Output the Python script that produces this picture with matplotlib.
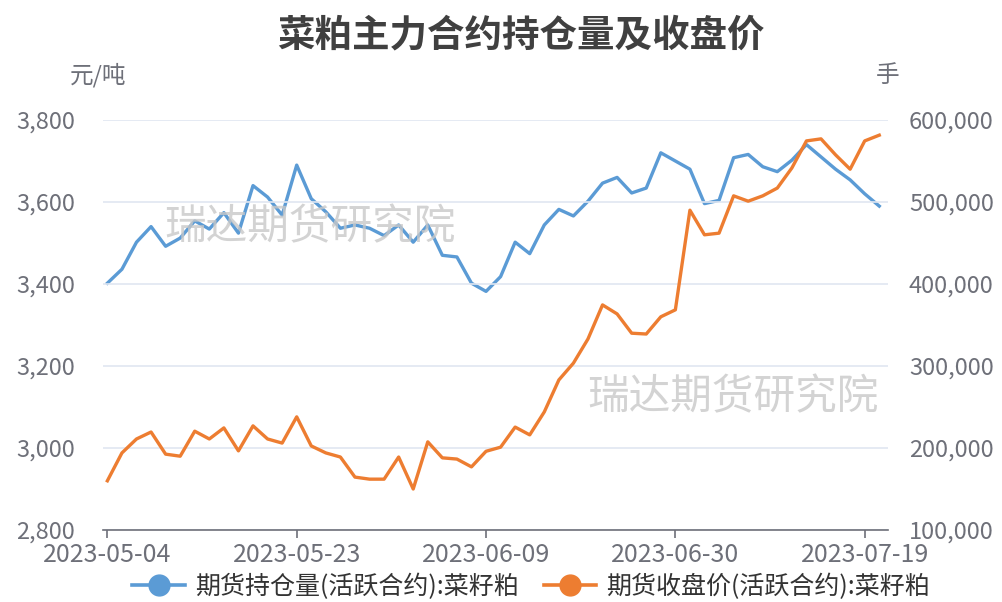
import matplotlib
matplotlib.use('Agg')
import matplotlib.pyplot as plt
from matplotlib.ticker import FuncFormatter, FixedLocator

plt.rcParams['font.family'] = ['Noto Sans CJK SC', 'DejaVu Sans']

dates = ['2023-05-04', '2023-05-05', '2023-05-08', '2023-05-09', '2023-05-10', '2023-05-11',
         '2023-05-12', '2023-05-15', '2023-05-16', '2023-05-17', '2023-05-18', '2023-05-19',
         '2023-05-22', '2023-05-23', '2023-05-24', '2023-05-25', '2023-05-26', '2023-05-29',
         '2023-05-30', '2023-05-31', '2023-06-01', '2023-06-02', '2023-06-05', '2023-06-06',
         '2023-06-07', '2023-06-08', '2023-06-09', '2023-06-12', '2023-06-13', '2023-06-14',
         '2023-06-15', '2023-06-16', '2023-06-19', '2023-06-20', '2023-06-21', '2023-06-26',
         '2023-06-27', '2023-06-28', '2023-06-29', '2023-06-30', '2023-07-03', '2023-07-04',
         '2023-07-05', '2023-07-06', '2023-07-07', '2023-07-10', '2023-07-11', '2023-07-12',
         '2023-07-13', '2023-07-14', '2023-07-17', '2023-07-18', '2023-07-19', '2023-07-20']

# 持仓量 (手), right axis
open_interest = [401000, 418000, 451000, 470000, 446000, 456000, 477000, 467000, 487000, 462000,
                 520000, 506000, 484000, 545000, 504000, 488000, 468000, 472000, 468000, 459000,
                 472000, 451000, 472000, 435000, 433000, 401000, 391000, 409000, 451000, 437000,
                 472000, 491000, 483000, 501000, 523000, 530000, 511000, 517000, 560000, 550000,
                 540000, 498000, 502000, 554000, 558000, 543000, 537000, 551000, 570000, 555000,
                 540000, 527000, 510000, 495000]

# 收盘价 (元/吨), left axis
close_price = [2920, 2988, 3022, 3039, 2985, 2980, 3041, 3022, 3049, 2993,
               3054, 3022, 3012, 3076, 3005, 2988, 2978, 2929, 2924, 2924,
               2978, 2900, 3015, 2976, 2973, 2954, 2992, 3002, 3051, 3032,
               3088, 3166, 3207, 3266, 3349, 3327, 3280, 3278, 3320, 3337,
               3580, 3520, 3524, 3615, 3602, 3615, 3634, 3683, 3749, 3754,
               3715, 3680, 3749, 3763]

tick_dates = ['2023-05-04', '2023-05-23', '2023-06-09', '2023-06-30', '2023-07-19']
left_ticks = [2800, 3000, 3200, 3400, 3600, 3800]
right_ticks = [100000, 200000, 300000, 400000, 500000, 600000]

blue = '#5b9bd5'
orange = '#ed7d31'
label_color = '#6e7079'

fig = plt.figure(figsize=(10.02, 6.02), dpi=100)
ax = fig.add_axes([103 / 1002, 72 / 602, 785 / 1002, 410 / 602])
ax2 = ax.twinx()

x = list(range(len(dates)))
ax2.plot(x, open_interest, color=blue, lw=2.4, zorder=3)
ax.plot(x, close_price, color=orange, lw=2.4, zorder=3)
ax.set_zorder(ax2.get_zorder() + 1)
ax.patch.set_visible(False)

ax.set_xlim(-0.3, len(dates) - 1 + 0.6)
ax.set_ylim(2800, 3800)
ax2.set_ylim(100000, 600000)

ax.yaxis.set_major_locator(FixedLocator(left_ticks))
ax2.yaxis.set_major_locator(FixedLocator(right_ticks))
ax.yaxis.set_major_formatter(FuncFormatter(lambda v, p: f'{int(v):,}'))
ax2.yaxis.set_major_formatter(FuncFormatter(lambda v, p: f'{int(v):,}'))

ax.set_xticks([dates.index(d) for d in tick_dates])
ax.set_xticklabels(tick_dates)

for a in (ax, ax2):
    for s in a.spines.values():
        s.set_visible(False)
ax.spines['bottom'].set_visible(True)
ax.spines['bottom'].set_color(label_color)
ax.spines['bottom'].set_linewidth(1.2)

ax.grid(axis='y', color='#e0e6f1', lw=1.2, zorder=0)
ax.tick_params(axis='y', length=0, pad=20, labelsize=17, labelcolor=label_color)
ax2.tick_params(axis='y', length=0, pad=15, labelsize=17, labelcolor=label_color)
ax.tick_params(axis='x', length=6, width=1.2, color=label_color, pad=3,
               labelsize=18, labelcolor=label_color)

fig.text(0.52, 1 - 35 / 602, '菜粕主力合约持仓量及收盘价', ha='center', va='center',
         fontsize=27, fontweight='bold', color='#404040')
fig.text(98 / 1002, 1 - 75 / 602, '元/吨', ha='center', va='center', fontsize=17, color=label_color)
fig.text(888 / 1002, 1 - 75 / 602, '手', ha='center', va='center', fontsize=17, color=label_color)

# watermarks
fig.text(310 / 1002, 1 - 228 / 602, '瑞达期货研究院', ha='center', va='center',
         fontsize=30, color='#c8c8c8', alpha=0.8)
fig.text(733 / 1002, 1 - 398 / 602, '瑞达期货研究院', ha='center', va='center',
         fontsize=30, color='#c8c8c8', alpha=0.8)

h1, = ax.plot([], [], color=blue, lw=2.6, marker='o', ms=15)
h2, = ax.plot([], [], color=orange, lw=2.6, marker='o', ms=15)
fig.legend([h1, h2], ['期货持仓量(活跃合约):菜籽粕', '期货收盘价(活跃合约):菜籽粕'],
           loc='center', bbox_to_anchor=(0.53, 1 - 587 / 602), ncol=2, frameon=False,
           fontsize=18, labelcolor='#333333', handlelength=2.1, columnspacing=1.0,
           handletextpad=0.4)

fig.savefig('out.png', dpi=100)
